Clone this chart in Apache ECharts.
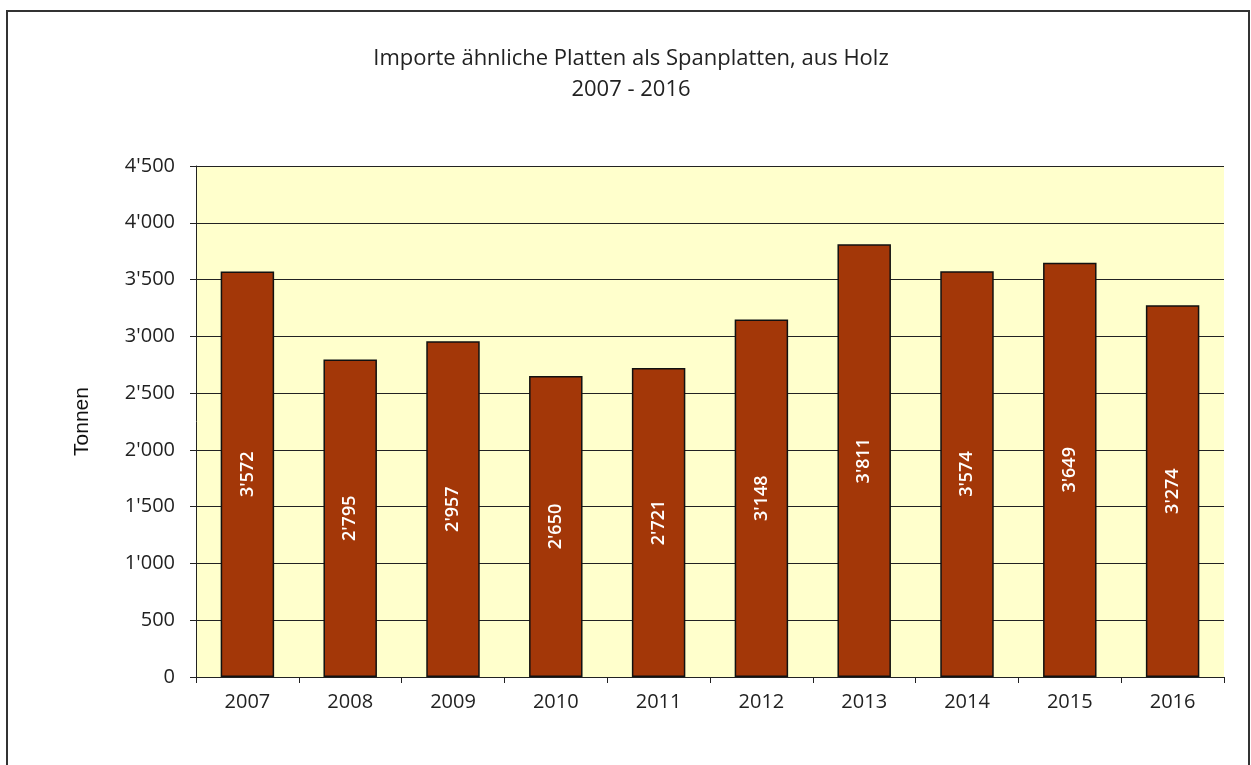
<!DOCTYPE html>
<html>
<head>
<meta charset="utf-8">
<script src="https://cdn.jsdelivr.net/npm/echarts@6/dist/echarts.min.js"></script>
<style>
  html, body { margin: 0; padding: 0; background: #fff; }
  #chart { width: 1251px; height: 765px; }
</style>
</head>
<body>
<div id="chart"></div>
<script>
// Importe, Tonnen pro Jahr
const years = ['2007', '2008', '2009', '2010', '2011', '2012', '2013', '2014', '2015', '2016']
const tonnen = [3572, 2795, 2957, 2650, 2721, 3148, 3811, 3574, 3649, 3274]
const yTicks = [0, 500, 1000, 1500, 2000, 2500, 3000, 3500, 4000, 4500]

const fmt = function (v) {
  return String(v).replace(/\B(?=(\d{3})+(?!\d))/g, "'")
}

const chart = echarts.init(document.getElementById('chart'))

const option = {
  animation: false,
  backgroundColor: '#ffffff',
  title: {
    text: 'Importe ähnliche Platten als Spanplatten, aus Holz\n2007 - 2016',
    left: 626,
    top: 38,
    textAlign: 'center',
    textStyle: {
      fontFamily: 'Open Sans',
      fontWeight: 'normal',
      fontSize: 22,
      lineHeight: 31,
      color: '#222'
    }
  },
  graphic: [
    {
      type: 'rect',
      shape: { x: 7, y: 11, width: 1242, height: 770 },
      style: { fill: 'none', stroke: '#333', lineWidth: 2 },
      silent: true
    }
  ],
  grid: {
    left: 196,
    top: 166,
    width: 1028,
    height: 511,
    show: true,
    backgroundColor: '#ffffcc',
    borderWidth: 0
  },
  xAxis: {
    type: 'category',
    data: years,
    axisLine: { lineStyle: { color: '#222', width: 1 } },
    axisTick: { show: true, alignWithLabel: false, length: 6, lineStyle: { color: '#222' } },
    axisLabel: {
      margin: 15,
      fontFamily: 'Open Sans',
      fontSize: 20,
      color: '#222'
    }
  },
  yAxis: {
    type: 'value',
    min: yTicks[0],
    max: yTicks[yTicks.length - 1],
    interval: 500,
    name: 'Tonnen',
    nameLocation: 'middle',
    nameGap: 103,
    nameRotate: 90,
    nameTextStyle: { fontFamily: 'Liberation Sans', fontSize: 21, color: '#111' },
    axisLine: { show: true, lineStyle: { color: '#222', width: 1 } },
    axisTick: { show: true, length: 6, lineStyle: { color: '#222' } },
    splitLine: { show: true, lineStyle: { color: '#222', width: 1 } },
    axisLabel: {
      margin: 21,
      fontFamily: 'Open Sans',
      fontSize: 20,
      color: '#222',
      formatter: fmt
    }
  },
  series: [
    {
      name: 'Tonnen',
      type: 'bar',
      data: tonnen,
      barWidth: '52%',
      itemStyle: {
        color: '#a33708',
        borderColor: '#111',
        borderWidth: 1.5
      },
      label: {
        show: true,
        position: 'inside',
        rotate: 90,
        color: '#ffffff',
        fontFamily: 'Open Sans',
        fontWeight: 600,
        fontSize: 18,
        formatter: function (p) { return fmt(p.value) }
      }
    }
  ]
}

chart.setOption(option)
window.addEventListener('resize', () => {
  chart.resize()
})
</script>
</body>
</html>
